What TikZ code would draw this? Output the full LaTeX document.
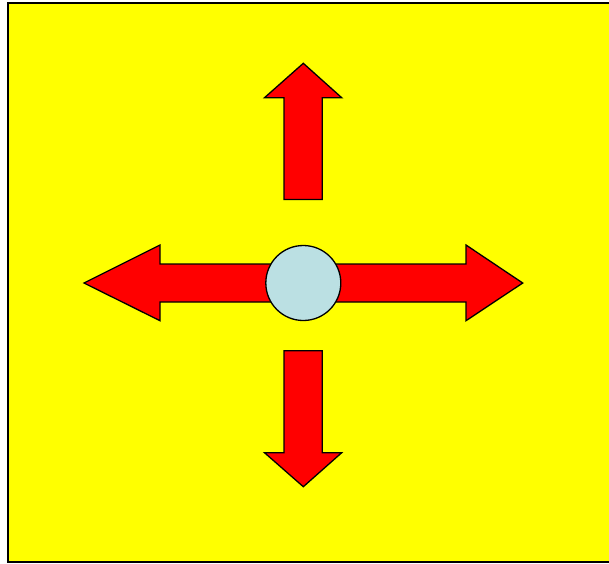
\documentclass[tikz,border=0pt]{standalone}
\definecolor{bgyellow}{RGB}{255,255,0}
\definecolor{arrred}{RGB}{255,0,0}
\definecolor{hub}{RGB}{187,224,227}
\begin{document}
\begin{tikzpicture}[x=1pt,y=-1pt,
  arrowshape/.style={fill=arrred,draw=black,line width=1.3pt,line join=miter},
  hubcircle/.style={circle,fill=hub,draw=black,line width=1.3pt,minimum size=75pt,inner sep=0pt}]
\useasboundingbox (0,0) rectangle (609,563);
\begin{scope}
\clip (0,0) rectangle (609,563);
\draw[fill=bgyellow,draw=black,line width=1.6pt] (8,3) rectangle (615,562);
\end{scope}
% up arrow
\draw[arrowshape] (284,199.5) -- (284,97.7) -- (264.5,97.7) -- (303.3,63.3) -- (341.7,97.7) -- (322.3,97.7) -- (322.3,199.5) -- cycle;
% down arrow
\draw[arrowshape] (284,350.7) -- (284,452.7) -- (264.5,452.7) -- (303.3,486.7) -- (341.7,452.7) -- (322.3,452.7) -- (322.3,350.7) -- cycle;
% horizontal double arrow
\draw[arrowshape] (84,283) -- (160,245) -- (160,264) -- (466,264) -- (466,245) -- (522.7,283) -- (466,320.7) -- (466,302) -- (160,302) -- (160,320.7) -- cycle;
\node[hubcircle] (hubnode) at (303.3,283) {};
\end{tikzpicture}
\end{document}
